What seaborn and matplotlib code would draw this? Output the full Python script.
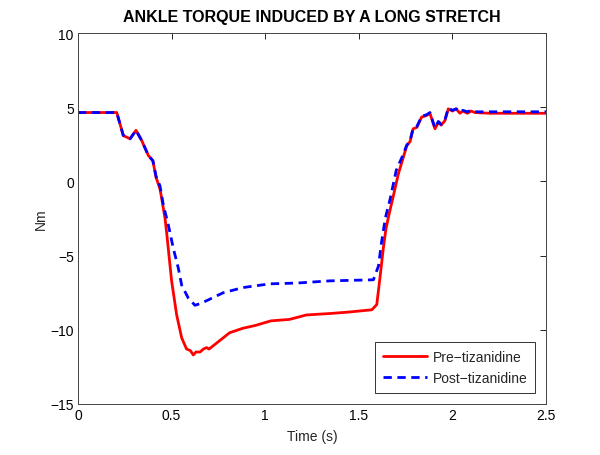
import matplotlib
matplotlib.use("Agg")
import matplotlib.pyplot as plt
import seaborn as sns
import pandas as pd

pre_t = [0, 0.207, 0.242, 0.278, 0.31, 0.34, 0.376, 0.40, 0.417, 0.438, 0.447, 0.465,
         0.474, 0.482, 0.50, 0.527, 0.554, 0.58, 0.60, 0.616, 0.63, 0.652, 0.67, 0.687,
         0.70, 0.75, 0.81, 0.88, 0.95, 1.03, 1.13, 1.22, 1.35, 1.45, 1.57, 1.596, 1.613,
         1.631, 1.645, 1.66, 1.684, 1.711, 1.756, 1.774, 1.79, 1.81, 1.836, 1.862, 1.88,
         1.907, 1.925, 1.94, 1.96, 1.978, 2.0, 2.02, 2.04, 2.055, 2.08, 2.10, 2.12, 2.2, 2.5]
pre_v = [4.65, 4.65, 3.1, 2.88, 3.45, 2.77, 1.75, 1.4, 0.27, -0.5, -1.14, -2.5,
         -3.5, -4.5, -6.7, -9.0, -10.55, -11.3, -11.4, -11.7, -11.5, -11.5, -11.3, -11.2,
         -11.3, -10.8, -10.2, -9.9, -9.7, -9.4, -9.3, -9.0, -8.9, -8.8, -8.65, -8.3, -6.5,
         -4.5, -3.2, -2.3, -1.0, 0.5, 2.4, 2.7, 3.55, 3.65, 4.35, 4.45, 4.6,
         3.55, 4.0, 3.8, 4.1, 4.9, 4.75, 4.9, 4.6, 4.75, 4.6, 4.75, 4.65, 4.6, 4.6]

post_t = [0, 0.207, 0.242, 0.278, 0.31, 0.34, 0.376, 0.40, 0.417, 0.438, 0.456, 0.482,
          0.509, 0.536, 0.554, 0.589, 0.625, 0.66, 0.776, 0.883, 1.026, 1.168, 1.346,
          1.578, 1.605, 1.622, 1.635, 1.645, 1.667, 1.70, 1.738, 1.756, 1.774, 1.79, 1.81,
          1.836, 1.862, 1.88, 1.907, 1.925, 1.94, 1.96, 1.978, 2.0, 2.02, 2.04, 2.055,
          2.08, 2.10, 2.12, 2.2, 2.5]
post_v = [4.65, 4.65, 3.1, 2.88, 3.45, 2.77, 1.75, 1.4, 0.35, -0.3, -1.6, -2.9,
          -4.5, -5.85, -7.0, -7.86, -8.35, -8.2, -7.5, -7.15, -6.9, -6.85, -6.7,
          -6.63, -5.7, -4.05, -3.0, -2.3, -1.2, 0.75, 1.85, 2.45, 2.75, 3.6, 3.7,
          4.4, 4.5, 4.65, 3.6, 4.05, 3.85, 4.15, 4.95, 4.8, 4.9, 4.7, 4.8,
          4.7, 4.8, 4.7, 4.7, 4.7]

labels = ["Pre\u2212tizanidine", "Post\u2212tizanidine"]

sns.set_style("white")
plt.rcParams["font.family"] = ["Liberation Sans", "DejaVu Sans"]
plt.rcParams["axes.unicode_minus"] = True

fig = plt.figure(figsize=(6, 4.56), dpi=100)
ax = fig.add_axes([0.13, 0.112, 0.78, 0.813])

df_pre = pd.DataFrame({"t": pre_t, "v": pre_v})
df_post = pd.DataFrame({"t": post_t, "v": post_v})
sns.lineplot(data=df_pre, x="t", y="v", ax=ax, color="#ff0000", lw=2.0,
             label=labels[0], sort=False)
sns.lineplot(data=df_post, x="t", y="v", ax=ax, color="#0000ff", lw=2.0,
             linestyle=(0, (3, 2)), label=labels[1], sort=False)

ax.set_xlim(0, 2.5)
ax.set_ylim(-15, 10)
ax.set_xticks([0, 0.5, 1, 1.5, 2, 2.5])
ax.set_xticklabels(["0", "0.5", "1", "1.5", "2", "2.5"])
ax.set_yticks([-15, -10, -5, 0, 5, 10])
ax.tick_params(direction="in", top=True, right=True, length=4, width=0.6,
               labelsize=10, colors="black", pad=3)
for s in ax.spines.values():
    s.set_visible(True)
    s.set_color("#444444")
    s.set_linewidth(0.7)

ax.set_xlabel("Time (s)", fontsize=10, labelpad=5)
ax.set_ylabel("Nm", fontsize=10, labelpad=2)
ax.set_title("ANKLE TORQUE INDUCED BY A LONG STRETCH", fontsize=11.5,
             fontweight="bold", pad=9, color="black")

leg = ax.legend(loc="lower right", fontsize=10, frameon=True, fancybox=False,
                edgecolor="black", handlelength=3.2, borderaxespad=0.8,
                handletextpad=0.4, labelspacing=0.55, borderpad=0.55)
leg.get_frame().set_linewidth(0.7)

fig.savefig("out.png", dpi=100)
